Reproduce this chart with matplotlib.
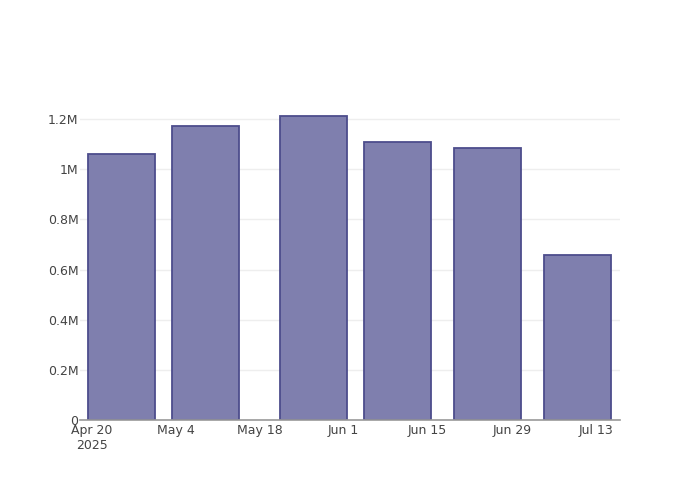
import datetime as dt

import matplotlib
matplotlib.use("Agg")
import matplotlib.pyplot as plt
import matplotlib.dates as mdates
from matplotlib.ticker import FuncFormatter

# weekly-ish totals
dates = ["2025-04-25", "2025-05-09", "2025-05-27", "2025-06-10", "2025-06-25", "2025-07-10"]
values = [1_060_000, 1_173_000, 1_213_000, 1_107_000, 1_083_000, 656_000]
tick_dates = ["2025-04-20", "2025-05-04", "2025-05-18", "2025-06-01",
              "2025-06-15", "2025-06-29", "2025-07-13"]
tick_labels = ["Apr 20\n2025", "May 4", "May 18", "Jun 1", "Jun 15", "Jun 29", "Jul 13"]
y_ticks = [0, 200_000, 400_000, 600_000, 800_000, 1_000_000, 1_200_000]

x = [mdates.date2num(dt.date.fromisoformat(d)) for d in dates]
xt = [mdates.date2num(dt.date.fromisoformat(d)) for d in tick_dates]

fig = plt.figure(figsize=(7, 5), dpi=100)
ax = fig.add_axes([80 / 700, 80 / 500, 540 / 700, 320 / 500])

ax.bar(x, values, width=11.2, color="#7f7fae", edgecolor="#4d4d8c", linewidth=1.3, zorder=3)

ax.set_xlim(xt[0] - 1.95, xt[0] + 88.05)
ax.set_ylim(0, 1_276_000)

ax.set_xticks(xt)
ax.set_xticklabels(tick_labels)
ax.set_yticks(y_ticks)


def fmt_m(v, pos):
    if v == 0:
        return "0"
    m = v / 1e6
    return f"{m:g}M"


ax.yaxis.set_major_formatter(FuncFormatter(fmt_m))
ax.tick_params(axis="both", length=0, labelsize=9, colors="#444444")
ax.tick_params(axis="y", pad=1)
ax.tick_params(axis="x", pad=3)
ax.grid(axis="y", color="#eeeeee", linewidth=1, zorder=0)

for side in ("left", "right", "top"):
    ax.spines[side].set_visible(False)
ax.spines["bottom"].set_color("#999999")
ax.spines["bottom"].set_linewidth(1.2)
ax.spines["bottom"].set_zorder(4)

fig.savefig("out.png", dpi=100)
